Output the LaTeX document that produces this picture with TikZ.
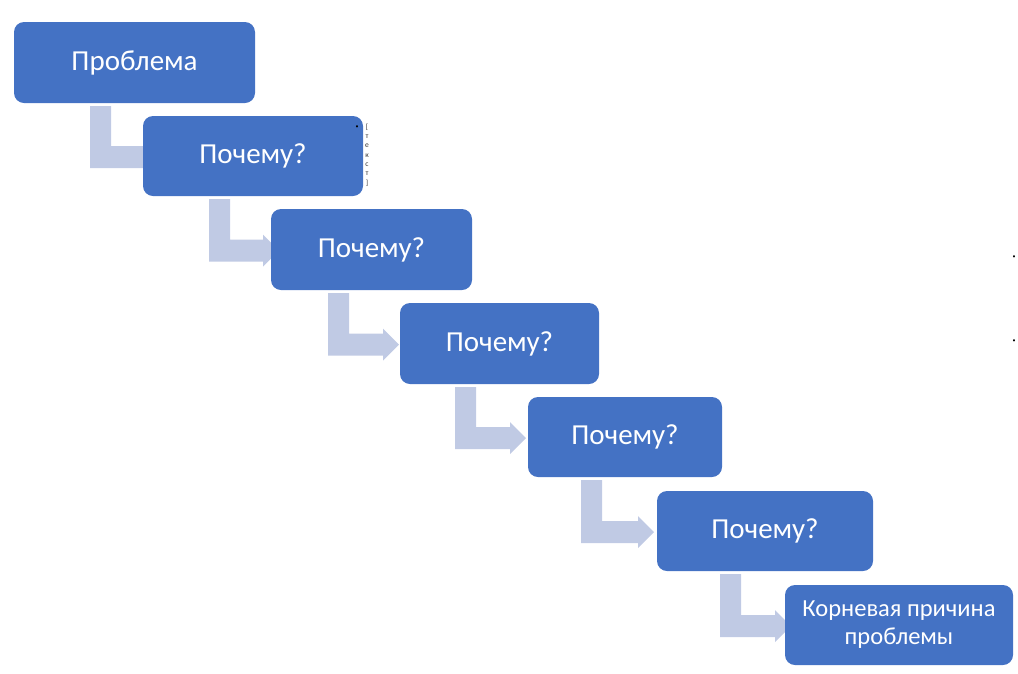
\documentclass[tikz,border=0pt]{standalone}
\usepackage{fontspec}
\setmainfont{Carlito}
\usetikzlibrary{calc}
\definecolor{boxblue}{RGB}{68,114,196}
\definecolor{arrowblue}{RGB}{192,202,228}
\pgfdeclarelayer{background}
\pgfsetlayers{background,main}
\tikzset{
 box/.style={rectangle, rounded corners=10pt, fill=boxblue, text=white, inner sep=0pt, outer sep=0pt, anchor=north west, font=\fontsize{29}{34}\selectfont},
 bent/.style={fill=arrowblue},
 tinytext/.style={font=\fontsize{7.5}{9.3}\selectfont, inner sep=0pt, align=center, text=black!80},
 dotmark/.style={font=\fontsize{6}{7}\selectfont, inner sep=0pt, text=black}
}
\newcommand{\bentarrow}[4]{%
 \fill[bent] let \p1=(#1.south), \p2=(#2.west) in
 (#3pt,\y1-3pt) -- (#3pt+21pt,\y1-3pt) -- (#3pt+21pt,\y2+10pt) -- (#4pt,\y2+10pt) -- (#4pt,\y2+15pt) -- (#4pt+16pt,\y2-1pt) -- (#4pt,\y2-17pt) -- (#4pt,\y2-12pt) -- (#3pt,\y2-12pt) -- cycle;}
\begin{document}
\begin{tikzpicture}[x=1pt,y=-1pt]
\useasboundingbox (0,0) rectangle (1018,673);
\node[box, minimum width=241pt, minimum height=81pt] (b1) at (14,22) {Проблема};
\node[box, minimum width=220pt, minimum height=80pt] (b2) at (143,116) {Почему?};
\node[box, minimum width=201pt, minimum height=81pt] (b3) at (271,209) {Почему?};
\node[box, minimum width=199pt, minimum height=81pt] (b4) at (400,303) {Почему?};
\node[box, minimum width=194pt, minimum height=80pt] (b5) at (528,397) {Почему?};
\node[box, minimum width=216pt, minimum height=80pt] (b6) at (657,491) {Почему?};
\node[box, minimum width=228pt, minimum height=80pt, align=center, font=\fontsize{24.5}{28}\selectfont] (b7) at (785,585) {Корневая причина\\проблемы};
\begin{pgfonlayer}{background}
\bentarrow{b1}{b2}{90}{146}
\bentarrow{b2}{b3}{209}{263}
\bentarrow{b3}{b4}{328}{383}
\bentarrow{b4}{b5}{455}{510}
\bentarrow{b5}{b6}{581}{638}
\bentarrow{b6}{b7}{720}{775}
\end{pgfonlayer}
\node[dotmark] (bul) at (357,127) {•};
\node[tinytext] (vt) at (367,155) {[\\т\\е\\к\\с\\т\\]};
\node[dotmark] (d1) at (1014,257) {•};
\node[dotmark] (d2) at (1014,341) {•};
\end{tikzpicture}
\end{document}
